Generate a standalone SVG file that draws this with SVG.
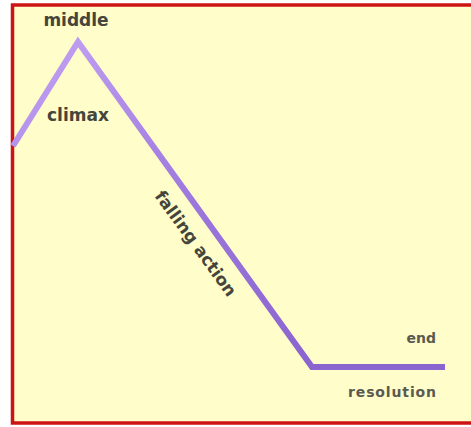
<svg xmlns="http://www.w3.org/2000/svg" width="471" height="427" viewBox="0 0 471 427">
  <defs>
    <linearGradient id="lineGrad" gradientUnits="userSpaceOnUse" x1="78" y1="42" x2="312" y2="367">
      <stop offset="0" stop-color="#bd9cf0"/>
      <stop offset="0.5" stop-color="#9b77dc"/>
      <stop offset="1" stop-color="#8a64cf"/>
    </linearGradient>
    <style>
      .lbl { font-family: "DejaVu Sans", Verdana, sans-serif; font-weight: bold; fill: #45453c; }
      .big { font-size: 17px; }
      .small { font-size: 14px; fill: #5a5a50; }
    </style>
  </defs>
  <rect x="0" y="0" width="471" height="427" fill="#ffffff"/>
  <rect x="12.5" y="5" width="462" height="418" fill="#fffdca" stroke="#cc1414" stroke-width="3.5"/>
  <g id="connectors">
    <polyline points="13,146 78,42 312,367 445,367" fill="none" stroke="url(#lineGrad)" stroke-width="6" stroke-linejoin="miter"/>
  </g>
  <g id="middle"><text class="lbl big" x="76" y="26" text-anchor="middle">middle</text></g>
  <g id="climax"><text class="lbl big" x="78" y="121" text-anchor="middle">climax</text></g>
  <g id="falling-action"><text class="lbl big" transform="translate(191,247) rotate(54)" text-anchor="middle">falling action</text></g>
  <g id="end"><text class="lbl small" x="436" y="343" text-anchor="end">end</text></g>
  <g id="resolution"><text class="lbl small" x="436" y="397" text-anchor="end" textLength="88">resolution</text></g>
</svg>
